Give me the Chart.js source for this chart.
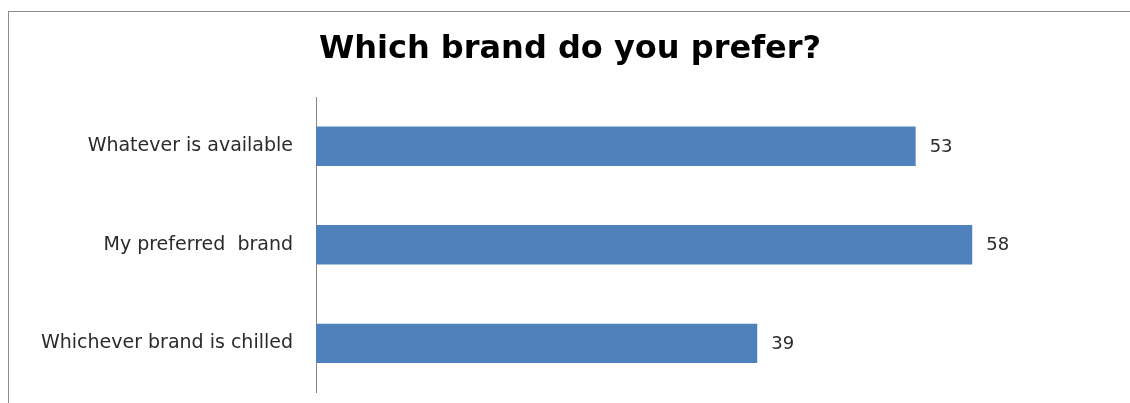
<!DOCTYPE html>
<html>
<head>
<meta charset="utf-8">
<script src="https://cdn.jsdelivr.net/npm/chart.js@4"></script>
<style>
html,body{margin:0;padding:0;background:#fff;overflow:hidden}
#wrap{position:relative;width:1130px;height:403px;overflow:hidden}
#frame{position:absolute;left:8px;top:11px;width:1140px;height:420px;border:1px solid #8c8c8c;box-sizing:border-box}
#c{position:absolute;left:0;top:0}
</style>
</head>
<body>
<div id="wrap">
<div id="frame"></div>
<canvas id="c" width="1130" height="427"></canvas>
</div>
<script>
// survey answers, top to bottom
const answers = ['Whatever is available', 'My preferred  brand', 'Whichever brand is chilled']
const counts = [53, 58, 39]
const titleText = 'Which brand do you prefer?'

/* heading, centred over the bars rather than the canvas */
const heading = {
id:'heading',
afterDraw(chart){
let ctx = chart.ctx
ctx.save()
ctx.font = 'bold 32px "DejaVu Sans"'
ctx.fillStyle = '#000'
ctx.textAlign = 'center'
ctx.textBaseline = 'alphabetic'
ctx.fillText(titleText, 570, 58)
ctx.restore()
}
}

/* value labels to the right of each bar */
const valueLabels = {
id:'valueLabels',
afterDatasetsDraw(chart){
let ctx = chart.ctx
let meta = chart.getDatasetMeta(0)
ctx.save()
ctx.font = '18px "DejaVu Sans"'
ctx.fillStyle = '#2b2b2b'
ctx.textBaseline = 'middle'
meta.data.forEach((bar,i)=>{
ctx.fillText(String(counts[i]), bar.x+14, bar.y+1)
})
ctx.restore()
}
}

let chart = new Chart(document.getElementById('c'),{

type:'bar',

data:{
labels:answers,
datasets:[{
data:counts,
backgroundColor:'#4F81BD',
barPercentage:0.4,
categoryPercentage:1
}]
},

options:{
indexAxis:'y',
responsive:false,
animation:false,
layout:{padding:{left:0,right:22,top:97,bottom:11}},
plugins:{
legend:{display:false},
tooltip:{enabled:false},
title:{display:false}
},
scales:{
x:{display:false,min:0,max:70},
y:{
grid:{display:false,drawTicks:false},
border:{display:true,color:'#888',width:1},
ticks:{color:'#2b2b2b',padding:23,font:{family:'"DejaVu Sans"',size:19}},
afterFit(scale){ scale.width = 316 }
}
}
},

plugins:[heading,valueLabels]

})
</script>
</body>
</html>
